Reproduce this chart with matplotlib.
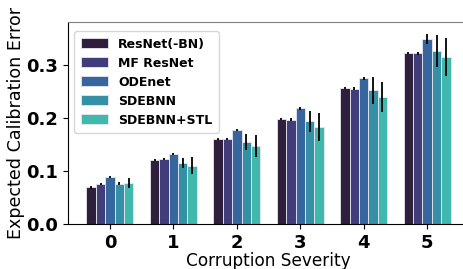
import numpy as np
import matplotlib.pyplot as plt

# data
severities = [0, 1, 2, 3, 4, 5]
models = ["ResNet(-BN)", "MF ResNet", "ODEnet", "SDEBNN", "SDEBNN+STL"]
colors = ["#2e1f3d", "#413d7b", "#37669e", "#3590a6", "#41b8ae"]

resnet = [0.069, 0.121, 0.161, 0.199, 0.257, 0.322]
mf_resnet = [0.076, 0.122, 0.161, 0.197, 0.255, 0.322]
odenet = [0.088, 0.132, 0.177, 0.218, 0.275, 0.349]
sdebnn = [0.076, 0.115, 0.155, 0.194, 0.252, 0.326]
sdebnn_stl = [0.077, 0.110, 0.147, 0.183, 0.240, 0.315]

resnet_err = [0.002, 0.002, 0.002, 0.002, 0.002, 0.002]
mf_resnet_err = [0.002, 0.002, 0.002, 0.003, 0.003, 0.003]
odenet_err = [0.002, 0.002, 0.002, 0.002, 0.003, 0.010]
sdebnn_err = [0.003, 0.009, 0.015, 0.020, 0.025, 0.030]
sdebnn_stl_err = [0.009, 0.016, 0.021, 0.026, 0.028, 0.036]

values = [resnet, mf_resnet, odenet, sdebnn, sdebnn_stl]
errors = [resnet_err, mf_resnet_err, odenet_err, sdebnn_err, sdebnn_stl_err]

fig = plt.figure(figsize=(4.63, 2.69), dpi=100)
ax = fig.add_axes([0.147, 0.167, 0.866, 0.751])

x = np.arange(len(severities))
w = 0.148
for i, (name, vals, errs, c) in enumerate(zip(models, values, errors, colors)):
    ax.bar(x + (i - 2) * w, vals, w, color=c, edgecolor="#e8e8f0", linewidth=0.6,
           label=name, yerr=errs, error_kw=dict(ecolor="black", elinewidth=1.3, capsize=0))

ax.set_xlim(-0.66, 5.66)
ax.set_ylim(0, 0.381)
ax.set_xticks(x)
ax.set_xticklabels([str(s) for s in severities])
ax.set_yticks([0.0, 0.1, 0.2, 0.3])
ax.tick_params(labelsize=13)
for lab in ax.get_xticklabels() + ax.get_yticklabels():
    lab.set_fontweight("bold")

ax.set_xlabel("Corruption Severity", fontsize=12.2, labelpad=0)
ax.set_ylabel("Expected Calibration Error", fontsize=12.6, labelpad=1)

ax.spines["top"].set_color("#808080")
ax.spines["right"].set_visible(False)

ax.legend(loc="upper left", prop=dict(weight="bold", size=9), borderpad=0.5,
          labelspacing=0.48, handlelength=2.2, handleheight=0.8,
          bbox_to_anchor=(0.0, 0.985))

fig.savefig("out.png", dpi=100)
